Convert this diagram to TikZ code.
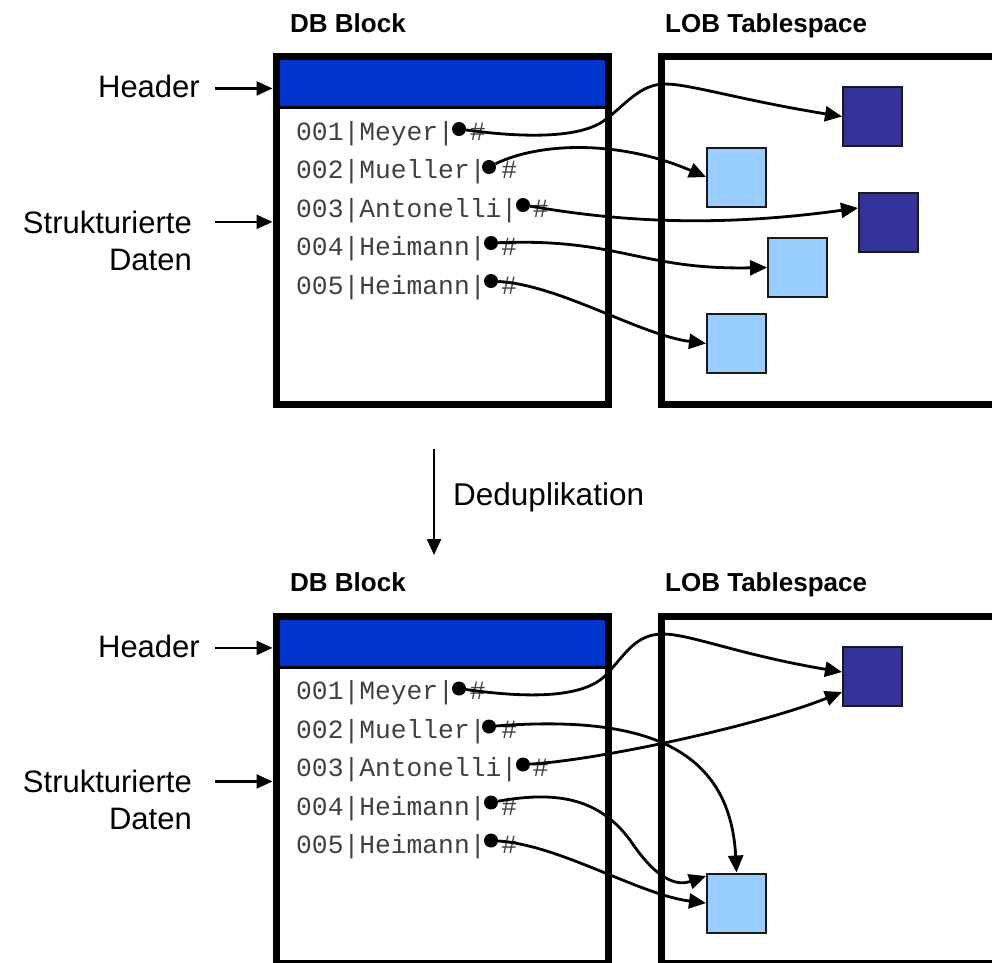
\documentclass[tikz,border=0pt]{standalone}
\usepackage{fontspec}
\setmainfont{Liberation Sans}
\newfontfamily\rowfont{Liberation Mono}
\usetikzlibrary{arrows.meta}

\definecolor{headerblue}{RGB}{0,51,204}
\definecolor{lobdark}{RGB}{51,51,153}
\definecolor{loblight}{RGB}{153,204,255}

\tikzset{
  box/.style={draw=black, line width=7pt, outer sep=0pt, inner sep=0pt},
  titletext/.style={font=\fontsize{26}{30}\selectfont\bfseries, inner sep=0pt, anchor=base west},
  sidetext/.style={font=\fontsize{31}{37}\selectfont, inner sep=0pt, anchor=base east},
  rowtext/.style={font=\rowfont\fontsize{26.3}{30}\selectfont, text=black!75, inner sep=0pt, anchor=base west},
  recdot/.style={circle, fill=black, minimum size=14pt, inner sep=0pt},
  lobblock/.style={draw=black!90, line width=2pt, minimum size=59pt, inner sep=0pt},
  darkblk/.style={lobblock, fill=lobdark},
  lightblk/.style={lobblock, fill=loblight},
  link/.style={line width=2.8pt, -{Triangle[length=17pt,width=15pt]}},
  pointer/.style={line width=2.2pt, -{Triangle[length=16pt,width=14pt]}},
}

% One DB block with its records and the LOB tablespace frame;
% #1 = name prefix, #2 = vertical offset
\newcommand\drawblocks[2]{%
  \begin{scope}[shift={(0,#2)}]
    \fill[headerblue] (276,56.5) rectangle (608.5,107.5);
    \draw[line width=3pt] (276,107.5) -- (608.5,107.5);
    \node[box, minimum width=332.5pt, minimum height=347.5pt] (#1db) at (442.25,230.25) {};
    \node[box, minimum width=400pt, minimum height=347.5pt, anchor=north west] (#1lob) at (661,56.5) {};
    \node[titletext] (#1dbt) at (290,32) {DB Block};
    \node[titletext] (#1lobt) at (665,32) {LOB Tablespace};
    \node[sidetext] (#1hdr) at (200,97.5) {Header};
    \node[sidetext] (#1str) at (192,233) {Strukturierte};
    \node[sidetext] (#1dat) at (192,270) {Daten};
    \draw[pointer] ([xshift=15pt,yshift=-2pt]#1hdr.east) -- ([xshift=-3.5pt,yshift=-2pt]#1hdr.east -| #1db.west);
    \draw[pointer] ([xshift=23pt]#1str.east) -- ([xshift=-3.5pt]#1str.east -| #1db.west);
    \node[rowtext] (#1r1) at (296,140) {001|Meyer| \#};
    \node[rowtext] (#1r2) at (296,178.5) {002|Mueller| \#};
    \node[rowtext] (#1r3) at (296,217) {003|Antonelli| \#};
    \node[rowtext] (#1r4) at (296,255.5) {004|Heimann| \#};
    \node[rowtext] (#1r5) at (296,294) {005|Heimann| \#};
    \node[recdot] (#1d1) at (459,129) {};
    \node[recdot] (#1d2) at (489,167) {};
    \node[recdot] (#1d3) at (523,205) {};
    \node[recdot] (#1d4) at (491,243) {};
    \node[recdot] (#1d5) at (491,281) {};
  \end{scope}}

\begin{document}
\begin{tikzpicture}[x=1pt, y=-1pt]
  \useasboundingbox (0,0) rectangle (992,962);

  % ---------- before deduplication ----------
  \drawblocks{a-}{0}
  \node[darkblk]  (a-s1) at (872.5,116.5) {};
  \node[lightblk] (a-s2) at (736.5,177) {};
  \node[darkblk]  (a-s3) at (888.5,222.5) {};
  \node[lightblk] (a-s4) at (797.5,267.5) {};
  \node[lightblk] (a-s5) at (736.5,343.5) {};

  \draw[link] (a-d1) .. controls (540,140) and (585,135) .. (605,120)
                     .. controls (625,105) and (640,84) .. (665,84)
                     .. controls (690,84) and (740,100) .. (a-s1.west);
  \draw[link] (a-d2) .. controls (540,142) and (620,140) .. (a-s2.west);
  \draw[link] (a-d3) .. controls (600,218) and (700,230) .. ([yshift=14.5pt]a-s3.west);
  \draw[link] (a-d4) .. controls (620,238) and (640,270) .. (a-s4.west);
  \draw[link] (a-d5) .. controls (560,285) and (640,335) .. (a-s5.west);

  % ---------- deduplication step ----------
  \coordinate (dedupfrom) at (434,449);
  \coordinate (dedupto) at (434,555);
  \draw[pointer] (dedupfrom) -- (dedupto);
  \node[font=\fontsize{31.5}{37}\selectfont, inner sep=0pt, anchor=base west] (dedup) at (453,505) {Deduplikation};

  % ---------- after deduplication ----------
  \drawblocks{b-}{559.5}
  \node[darkblk]  (b-s1) at (872.5,676) {};
  \node[lightblk] (b-s2) at (736.5,903) {};

  \draw[link] (b-d1) .. controls (540,700) and (585,695) .. (605,676)
                     .. controls (625,655) and (635,634) .. (663,634)
                     .. controls (690,634) and (740,655) .. ([yshift=4pt]b-s1.west);
  \draw[link] (b-d2) .. controls (640,715) and (730,745) .. (b-s2.north);
  \draw[link] (b-d3) .. controls (600,760) and (760,725) .. ([yshift=-16pt]b-s1.west);
  \draw[link] (b-d4) .. controls (560,790) and (600,800) .. (630,840)
                     .. controls (660,885) and (680,885) .. ([yshift=27pt]b-s2.west);
  \draw[link] (b-d5) .. controls (560,845) and (640,895) .. (b-s2.west);
\end{tikzpicture}
\end{document}
